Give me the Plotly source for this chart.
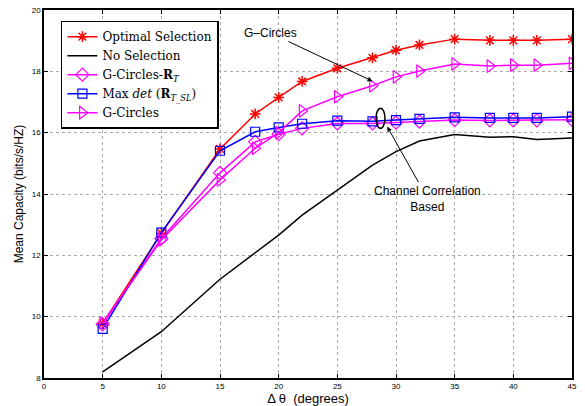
import plotly.graph_objects as go

# ---- data ----
delta_theta = [5, 10, 15, 18, 20, 22, 25, 28, 30, 32, 35, 38, 40, 42, 45]
optimal = [9.78, 12.72, 15.47, 16.61, 17.15, 17.67, 18.1, 18.44, 18.69, 18.86, 19.05, 19.01, 19.01, 19.01, 19.05]
no_sel = [8.2, 9.51, 11.22, 12.07, 12.66, 13.31, 14.13, 14.94, 15.38, 15.73, 15.94, 15.85, 15.87, 15.78, 15.83]
gc_rt = [9.75, 12.55, 14.69, 15.7, 15.95, 16.14, 16.3, 16.3, 16.33, 16.36, 16.41, 16.4, 16.4, 16.4, 16.42]
max_det = [9.6, 12.74, 15.41, 16.03, 16.17, 16.29, 16.39, 16.37, 16.41, 16.45, 16.5, 16.48, 16.48, 16.48, 16.52]
gc = [9.8, 12.5, 14.46, 15.49, 16.0, 16.71, 17.17, 17.53, 17.82, 18.01, 18.24, 18.17, 18.2, 18.2, 18.26]

x_ticks = [0, 5, 10, 15, 20, 25, 30, 35, 40, 45]
y_ticks = [8, 10, 12, 14, 16, 18, 20]

names = ["Optimal Selection", "No Selection", "G-Circles-<b>R</b><sub><i>T</i></sub>",
         "Max <i>det</i> (<b>R</b><sub><i>T_SL</i></sub>)", "G-Circles"]

fig = go.Figure()
fig.add_trace(go.Scatter(x=delta_theta, y=optimal, name=names[0], mode="lines+markers",
                         line=dict(color="#ff0000", width=1.5),
                         marker=dict(symbol="asterisk-open", size=9, color="#ff0000",
                                     line=dict(color="#ff0000", width=1.5))))
fig.add_trace(go.Scatter(x=delta_theta, y=no_sel, name=names[1], mode="lines",
                         line=dict(color="black", width=1.5)))
fig.add_trace(go.Scatter(x=delta_theta, y=gc_rt, name=names[2], mode="lines+markers",
                         line=dict(color="#ff00ff", width=1.5),
                         marker=dict(symbol="diamond-open", size=10, color="#ff00ff",
                                     line=dict(color="#ff00ff", width=1.2))))
fig.add_trace(go.Scatter(x=delta_theta, y=max_det, name=names[3], mode="lines+markers",
                         line=dict(color="#0000ff", width=1.5),
                         marker=dict(symbol="square-open", size=9, color="#0000ff",
                                     line=dict(color="#0000ff", width=1.2))))
fig.add_trace(go.Scatter(x=delta_theta, y=gc, name=names[4], mode="lines+markers",
                         line=dict(color="#ff00ff", width=1.5),
                         marker=dict(symbol="triangle-right-open", size=11, color="#ff00ff",
                                     line=dict(color="#ff00ff", width=1.2))))

ann_font = dict(family="Liberation Sans", size=12, color="black")

fig.add_annotation(x=28.0, y=17.68, ax=19.3, ay=19.25, axref="x", ayref="y",
                   text="G\u2013Circles", showarrow=True, arrowhead=2, arrowsize=1,
                   arrowwidth=1, arrowcolor="black", font=ann_font)
fig.add_annotation(x=29.25, y=16.2, ax=32.7, ay=13.85, axref="x", ayref="y",
                   text="Channel Correlation<br>Based", showarrow=True, arrowhead=2,
                   arrowsize=1, arrowwidth=1, arrowcolor="black", font=ann_font)
fig.add_shape(type="circle", xref="x", yref="y", x0=28.3, x1=29.06, y0=16.14, y1=16.8,
              line=dict(color="black", width=1.5))

axis_common = dict(showline=True, linecolor="black", linewidth=1.5, mirror="ticks",
                   ticks="inside", ticklen=4, tickcolor="black", automargin=False,
                   showgrid=True, gridcolor="#aaaaaa", griddash="dot", gridwidth=1,
                   zeroline=False,
                   tickfont=dict(family="Liberation Sans", size=8, color="black"))

fig.update_xaxes(range=[0, 45], tickvals=x_ticks, title=dict(text="\u0394 \u03b8  (degrees)",
                 font=dict(family="Liberation Sans", size=13, color="black"),
                 standoff=4),
                 **axis_common)
fig.update_yaxes(range=[8, 20], tickvals=y_ticks, title=dict(text="Mean Capacity (bits/s/HZ)",
                 font=dict(family="Liberation Sans", size=12, color="black"),
                 standoff=6),
                 **axis_common)

fig.update_layout(
    width=585, height=406,
    margin=dict(l=44, r=13, t=10, b=28),
    plot_bgcolor="white", paper_bgcolor="white",
    font=dict(color="black"),
    legend=dict(x=0.032, y=0.971, xanchor="left", yanchor="top",
                bgcolor="white", bordercolor="black", borderwidth=1.5,
                font=dict(family="DejaVu Serif", size=12, color="black"),
                itemwidth=30, tracegroupgap=0),
)

fig.write_html("out.html", config={"displayModeBar": False},
               post_script="document.body.style.margin='0';")
